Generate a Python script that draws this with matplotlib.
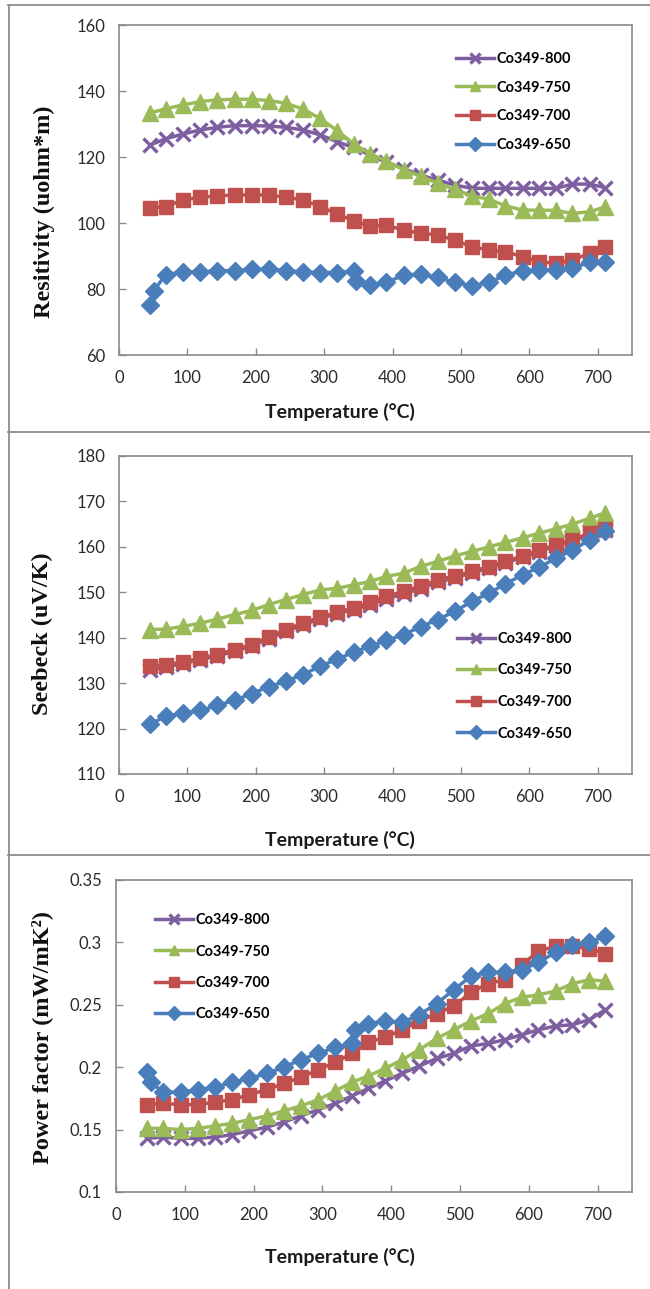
import matplotlib
matplotlib.use("Agg")
import matplotlib.pyplot as plt
from matplotlib.lines import Line2D

# ---------------- data ----------------
labels = ["Co349-800", "Co349-750", "Co349-700", "Co349-650"]

T = [45, 68, 94, 119, 144, 169, 194, 219, 244, 269, 294, 319, 343, 367,
     391, 416, 441, 466, 491, 516, 541, 565, 590, 614, 639, 663, 688, 711]
T_blue = [45, 51, 68, 94, 119, 144, 169, 194, 219, 244, 269, 294, 319, 343, 347,
          367, 391, 416, 441, 466, 491, 516, 541, 565, 590, 614, 639, 663, 688, 711]

# Resistivity (uohm*m)
rho_800 = [123.6, 125.5, 127.0, 128.2, 129.0, 129.5, 129.5, 129.4, 129.0, 128.2,
           126.7, 124.6, 122.9, 120.6, 118.4, 116.5, 114.5, 113.0, 111.5, 110.5,
           110.5, 110.5, 110.5, 110.5, 110.5, 111.8, 111.8, 110.7]
rho_750 = [133.3, 134.6, 135.8, 136.8, 137.3, 137.5, 137.5, 137.1, 136.3, 134.5,
           131.7, 128.0, 124.0, 121.0, 118.8, 116.1, 114.2, 112.0, 110.2, 108.2,
           107.2, 105.2, 103.9, 103.9, 103.8, 102.9, 103.4, 104.9]
rho_700 = [104.5, 105.0, 107.0, 107.8, 108.2, 108.5, 108.5, 108.5, 107.8, 107.0,
           105.0, 102.7, 100.7, 99.0, 99.4, 97.8, 96.9, 96.4, 94.8, 92.8,
           91.8, 91.3, 89.8, 88.3, 87.8, 88.8, 90.8, 92.8]
rho_650 = [75.2, 79.5, 84.3, 85.2, 85.2, 85.5, 85.6, 86.0, 86.0, 85.6, 85.2, 85.0,
           85.0, 85.4, 82.3, 81.2, 82.0, 84.2, 84.5, 83.5, 82.0, 81.0, 82.0, 84.2,
           85.5, 85.8, 85.8, 86.3, 88.1, 88.1]

# Seebeck (uV/K)
S_800 = [132.8, 133.6, 134.3, 135.2, 136.0, 137.0, 138.2, 139.8, 141.4, 142.8,
         144.2, 145.3, 146.2, 147.3, 148.6, 149.6, 150.8, 152.2, 153.2, 154.3,
         155.3, 156.5, 157.7, 158.9, 160.2, 161.3, 162.7, 163.7]
S_750 = [141.8, 141.9, 142.5, 143.2, 144.1, 145.1, 146.0, 147.3, 148.4, 149.5,
         150.5, 150.9, 151.6, 152.4, 153.5, 154.2, 155.7, 156.8, 158.0, 159.0,
         160.0, 161.0, 162.0, 163.0, 164.0, 165.0, 166.3, 167.5]
S_700 = [133.7, 134.1, 134.6, 135.5, 136.3, 137.4, 138.5, 140.2, 141.8, 143.2,
         144.5, 145.6, 146.5, 147.8, 149.1, 150.2, 151.4, 152.7, 153.6, 154.6,
         155.6, 156.8, 158.0, 159.2, 160.5, 161.6, 163.0, 164.0]
S_650 = [120.9, 122.7, 123.4, 124.0, 125.1, 126.2, 127.7, 129.2, 130.4, 131.9,
         133.7, 135.3, 136.8, 138.1, 139.4, 140.7, 142.4, 144.0, 145.8, 148.0,
         149.8, 151.9, 153.8, 155.5, 157.5, 159.3, 161.5, 163.4]

# Power factor (mW/mK^2)
PF_800 = [0.143, 0.144, 0.143, 0.143, 0.144, 0.146, 0.149, 0.152, 0.156, 0.161,
          0.166, 0.171, 0.177, 0.183, 0.189, 0.195, 0.201, 0.207, 0.211, 0.217,
          0.219, 0.222, 0.226, 0.230, 0.233, 0.234, 0.238, 0.246]
PF_750 = [0.151, 0.151, 0.150, 0.151, 0.153, 0.155, 0.158, 0.161, 0.165, 0.169,
          0.174, 0.181, 0.188, 0.193, 0.199, 0.206, 0.214, 0.223, 0.230, 0.237,
          0.243, 0.251, 0.256, 0.258, 0.261, 0.267, 0.270, 0.269]
PF_700 = [0.170, 0.171, 0.170, 0.170, 0.172, 0.174, 0.178, 0.182, 0.187, 0.192,
          0.198, 0.204, 0.211, 0.220, 0.224, 0.230, 0.237, 0.243, 0.249, 0.260,
          0.267, 0.270, 0.282, 0.293, 0.297, 0.297, 0.295, 0.291]
PF_650 = [0.196, 0.188, 0.180, 0.180, 0.182, 0.184, 0.188, 0.191, 0.195, 0.200,
          0.206, 0.211, 0.216, 0.219, 0.230, 0.235, 0.237, 0.236, 0.242, 0.251,
          0.262, 0.273, 0.276, 0.276, 0.278, 0.284, 0.292, 0.298, 0.300, 0.305]

x_ticks = [0, 100, 200, 300, 400, 500, 600, 700]
rho_ticks = [60, 80, 100, 120, 140, 160]
S_ticks = [110, 120, 130, 140, 150, 160, 170, 180]
PF_ticks = [0.1, 0.15, 0.2, 0.25, 0.3, 0.35]
PF_ticklabels = ["0.1", "0.15", "0.2", "0.25", "0.3", "0.35"]

# ---------------- style ----------------
colors = ["#7D5FA0", "#9BBB59", "#C0504D", "#4A7EBB"]
markers = ["x", "^", "s", "D"]
msizes = [10.5, 12, 10.5, 9.5]
mews = [2.4, 1, 1, 1]

W, H = 650, 1289
fig = plt.figure(figsize=(W / 100, H / 100), dpi=100)
fig.patch.set_facecolor("white")

def fx(px):
    return px / W

def fy(py):
    return 1 - py / H

# panel frames
frame_col = "#8c8c8c"
for yy in [5, 432, 855]:
    fig.add_artist(Line2D([fx(8), 1.0], [fy(yy), fy(yy)], color=frame_col, lw=1.3))
fig.add_artist(Line2D([fx(8.5), fx(8.5)], [fy(5), 0.0], color=frame_col, lw=1.3))

tick_font = dict(family=["Lato", "DejaVu Sans"], size=12)
ylab_font = dict(family=["Liberation Serif", "DejaVu Serif"], weight="bold", size=17.5)
xlab_font = dict(family=["Lato", "DejaVu Sans"], weight="bold", size=14)
leg_font = dict(family=["Lato", "DejaVu Sans"], weight="bold", size=10.5)


def make_axes(left, top, right, bottom, ylim, yticks, yticklabels=None):
    ax = fig.add_axes([fx(left), fy(bottom), fx(right - left), (bottom - top) / H])
    ax.set_xlim(0, 750)
    ax.set_ylim(*ylim)
    ax.set_xticks(x_ticks)
    ax.set_yticks(yticks)
    if yticklabels is not None:
        ax.set_yticklabels(yticklabels)
    for s in ax.spines.values():
        s.set_color("#8a8a8a")
        s.set_linewidth(1.2)
    ax.tick_params(direction="in", length=5, width=1, color="#8a8a8a",
                   labelcolor="#2b2b2b", top=False, right=False)
    ax.tick_params(axis="x", pad=11)
    ax.tick_params(axis="y", pad=10)
    for lab in ax.get_xticklabels() + ax.get_yticklabels():
        lab.set_fontfamily(tick_font["family"])
        lab.set_fontsize(tick_font["size"])
    return ax


def plot_series(ax, xs_list, ys_list):
    handles = []
    for i, (xs, ys) in enumerate(zip(xs_list, ys_list)):
        h, = ax.plot(xs, ys, color=colors[i], lw=2.5, marker=markers[i],
                     markersize=msizes[i], markeredgewidth=mews[i],
                     markerfacecolor=colors[i], markeredgecolor=colors[i],
                     label=labels[i], zorder=3 + i)
        handles.append(h)
    return handles


# Panel 1: resistivity
ax1 = make_axes(119, 25, 632, 355, (60, 160), rho_ticks)
h1 = plot_series(ax1, [T, T, T, T_blue], [rho_800, rho_750, rho_700, rho_650])
# Panel 2: Seebeck
ax2 = make_axes(119, 456, 632, 774, (110, 180), S_ticks)
h2 = plot_series(ax2, [T, T, T, T], [S_800, S_750, S_700, S_650])
# Panel 3: power factor
ax3 = make_axes(116, 880, 632, 1192, (0.1, 0.35), PF_ticks, PF_ticklabels)
h3 = plot_series(ax3, [T, T, T, T_blue], [PF_800, PF_750, PF_700, PF_650])

for ax, handles, anchor, spacing in [
        (ax1, h1, (456, 52), 1.0),
        (ax2, h2, (457, 632), 1.2),
        (ax3, h3, (155, 913), 1.2)]:
    leg = ax.legend(handles=handles, loc="upper left",
                    bbox_to_anchor=(fx(anchor[0]), fy(anchor[1])),
                    bbox_transform=fig.transFigure, frameon=False,
                    handlelength=2.6, handletextpad=0.15, borderpad=0,
                    borderaxespad=0, labelspacing=spacing, numpoints=1,
                    prop=leg_font)
    for lh in leg.legend_handles:
        lh.set_markersize(7)

# axis labels
for yc in [412, 840, 1257]:
    fig.text(fx(340), fy(yc), "Temperature (\u00b0C)", ha="center", va="center",
             color="#1a1a1a", **xlab_font)
fig.text(fx(44), fy(212), "Resitivity (uohm*m)", rotation=90, ha="center",
         va="center", color="#111111", **ylab_font)
fig.text(fx(42), fy(634), "Seebeck (uV/K)", rotation=90, ha="center",
         va="center", color="#111111", **ylab_font)
fig.text(fx(42), fy(1037), "Power factor (mW/mK\u00b2)", rotation=90, ha="center",
         va="center", color="#111111", **ylab_font)

fig.savefig("out.png", dpi=100, facecolor="white")
